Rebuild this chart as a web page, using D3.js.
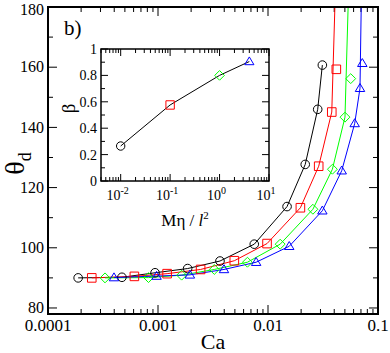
<!DOCTYPE html>
<html>
<head>
<meta charset="utf-8">
<script src="https://cdn.jsdelivr.net/npm/d3@7"></script>
<style>
  body { margin: 0; background: #fff; }
  text { font-family: "Liberation Serif", "Times New Roman", serif; fill: #000; }
</style>
</head>
<body>
<div id="chart"></div>
<script>
const WIDTH = 390;
const HEIGHT = 353;

// main panel data: Ca vs theta_d
const caBlack = [1.88e-4, 4.7e-4, 9.4e-4, 1.86e-3, 3.66e-3, 7.5e-3, 0.0149, 0.0218, 0.0283, 0.0312];
const thBlack = [90.0, 90.2, 91.7, 93.1, 95.6, 101.2, 113.7, 127.7, 146.0, 160.7];
const caRed = [2.5e-4, 6.1e-4, 1.21e-3, 2.44e-3, 4.94e-3, 9.8e-3, 0.0197, 0.0289, 0.0380, 0.0418];
const thRed = [90.0, 90.5, 91.4, 92.8, 95.7, 101.4, 113.3, 127.1, 145.1, 159.3];
const caGreen = [3.3e-4, 8.2e-4, 1.64e-3, 3.25e-3, 6.5e-3, 0.0129, 0.0256, 0.0385, 0.0501, 0.0565];
const thGreen = [90.0, 90.1, 90.9, 92.8, 95.2, 101.2, 112.8, 126.1, 143.4, 156.2];
const caBlue = [3.98e-4, 9.7e-4, 1.95e-3, 3.98e-3, 7.8e-3, 0.0156, 0.0312, 0.0468, 0.0614, 0.0686, 0.0720];
const thBlue = [90.1, 90.6, 91.0, 92.8, 95.2, 100.5, 112.3, 125.6, 141.3, 153.0, 161.3];

// fitted curves: leave out the last n points, then run up past the top
const fitSkip = [0, 1, 1, 1];
const fitTopCa = [null, 0.0407, 0.0537, 0.0705];
const fitTopTh = [null, 182, 182, 182];

// inset: M eta / l^2 vs beta
const insetX = [0.01, 0.1, 1, 4.0];
const insetY = [0.265, 0.576, 0.80, 0.905];

const yTicks = [80, 100, 120, 140, 160, 180];
const xTickLabels = ["0.0001", "0.001", "0.01", "0.1"];
const insetYTicks = [0, 0.2, 0.4, 0.6, 0.8, 1];
const insetXExp = [-2, -1, 0, 1];

const colors = ["#000000", "#ff0000", "#00ff00", "#0000ff"];
const shapes = ["circle", "square", "diamond", "triangle"];

const series = [
  {ca: caBlack, th: thBlack},
  {ca: caRed, th: thRed},
  {ca: caGreen, th: thGreen},
  {ca: caBlue, th: thBlue}
];

const svg = d3.select("#chart").append("svg")
  .attr("width", WIDTH)
  .attr("height", HEIGHT);

// marker path, centred on 0,0
function markerPath(shape, s) {
  const p = d3.path();
  if (shape == "circle") {
    p.arc(0, 0, s, 0, 2 * Math.PI);
  } else if (shape == "square") {
    p.rect(-s, -s, 2 * s, 2 * s);
  } else if (shape == "diamond") {
    p.moveTo(0, -s * 1.15); p.lineTo(s * 1.15, 0); p.lineTo(0, s * 1.15); p.lineTo(-s * 1.15, 0); p.closePath();
  } else {
    p.moveTo(0, -s * 1.1); p.lineTo(s * 1.1, s * 0.75); p.lineTo(-s * 1.1, s * 0.75); p.closePath();
  }
  return p.toString();
}

// log minor tick values between lo and hi
function logTicks(lo, hi) {
  const out = [];
  for (let e = Math.floor(Math.log10(lo)); e <= Math.ceil(Math.log10(hi)); e++) {
    for (let m = 1; m <= 9; m++) {
      const v = m * Math.pow(10, e);
      if (v >= lo * 0.999 && v <= hi * 1.001) out.push({v: v, major: m == 1});
    }
  }
  return out;
}

// ---------- main panel ----------
const L = 48, R = 378, T = 7, B = 314;
const x = d3.scaleLog().domain([1e-4, 0.1]).range([L, R]);
const y = d3.scaleLinear().domain([78, 180]).range([B, T]);

svg.append("clipPath").attr("id", "mainclip")
  .append("rect").attr("x", L).attr("y", T).attr("width", R - L).attr("height", B - T);

const main = svg.append("g");

// ticks (inward, all four sides)
const xt = logTicks(1e-4, 0.1);
main.selectAll("line.xb").data(xt).enter().append("line")
  .attr("x1", d => x(d.v)).attr("x2", d => x(d.v))
  .attr("y1", B).attr("y2", d => B - (d.major ? 9 : 5))
  .attr("stroke", "#000").attr("stroke-width", 1);
main.selectAll("line.xt").data(xt).enter().append("line")
  .attr("x1", d => x(d.v)).attr("x2", d => x(d.v))
  .attr("y1", T).attr("y2", d => T + (d.major ? 9 : 5))
  .attr("stroke", "#000").attr("stroke-width", 1);

const yt = d3.range(80, 181, 10);
main.selectAll("line.yl").data(yt).enter().append("line")
  .attr("x1", L).attr("x2", d => L + (d % 20 == 0 ? 9 : 5))
  .attr("y1", d => y(d)).attr("y2", d => y(d))
  .attr("stroke", "#000").attr("stroke-width", 1);
main.selectAll("line.yr").data(yt).enter().append("line")
  .attr("x1", R).attr("x2", d => R - (d % 20 == 0 ? 9 : 5))
  .attr("y1", d => y(d)).attr("y2", d => y(d))
  .attr("stroke", "#000").attr("stroke-width", 1);

main.selectAll("text.ylab").data(yTicks).enter().append("text")
  .attr("x", L - 4).attr("y", d => y(d)).attr("dy", d => d == 180 ? "0.5em" : "0.33em")
  .attr("text-anchor", "end").style("font-size", "16px")
  .text(d => d);

main.selectAll("text.xlab").data(xTickLabels).enter().append("text")
  .attr("x", d => x(+d)).attr("y", B + 17)
  .attr("text-anchor", "middle").style("font-size", "17px")
  .text(d => d);

main.append("text").attr("x", (L + R) / 2).attr("y", 349)
  .attr("text-anchor", "middle").style("font-size", "22px").text("Ca");

const ylab = main.append("text")
  .attr("transform", "translate(24," + y(128) + ") rotate(-90)")
  .attr("text-anchor", "middle").style("font-size", "28px");
ylab.append("tspan").text("θ");
ylab.append("tspan").attr("dy", 7).style("font-size", "18px").text("d");

main.append("text").attr("x", 64).attr("y", 35).style("font-size", "21px").text("b)");

// curves
const line = d3.line().x(d => x(d[0])).y(d => y(d[1]));
const curves = main.append("g").attr("clip-path", "url(#mainclip)");
series.forEach((s, i) => {
  const n = s.ca.length - fitSkip[i];
  const pts = d3.range(n).map(k => [s.ca[k], s.th[k]]);
  if (fitTopCa[i] != null) pts.push([fitTopCa[i], fitTopTh[i]]);
  curves.append("path").datum(pts)
    .attr("d", line)
    .attr("fill", "none").attr("stroke", colors[i]).attr("stroke-width", 1);
});
series.forEach((s, i) => {
  curves.selectAll("path.m" + i).data(s.ca).enter().append("path")
    .attr("transform", (d, k) => "translate(" + x(d) + "," + y(s.th[k]) + ")")
    .attr("d", markerPath(shapes[i], 4.3))
    .attr("fill", "none").attr("stroke", colors[i]).attr("stroke-width", 1);
});

main.append("rect").attr("x", L).attr("y", T).attr("width", R - L).attr("height", B - T)
  .attr("fill", "none").attr("stroke", "#000").attr("stroke-width", 2);

// ---------- inset ----------
const iL = 101, iR = 269, iT = 49, iB = 181;
const ix = d3.scaleLog().domain([0.004, 10]).range([iL, iR]);
const iy = d3.scaleLinear().domain([0, 1]).range([iB, iT]);
const inset = svg.append("g");

inset.append("rect").attr("x", iL).attr("y", iT).attr("width", iR - iL).attr("height", iB - iT)
  .attr("fill", "#fff");

const ixt = logTicks(0.004, 10);
inset.selectAll("line.b").data(ixt).enter().append("line")
  .attr("x1", d => ix(d.v)).attr("x2", d => ix(d.v))
  .attr("y1", iB).attr("y2", d => iB - (d.major ? 7 : 4))
  .attr("stroke", "#000").attr("stroke-width", 1);
inset.selectAll("line.t").data(ixt).enter().append("line")
  .attr("x1", d => ix(d.v)).attr("x2", d => ix(d.v))
  .attr("y1", iT).attr("y2", d => iT + (d.major ? 7 : 4))
  .attr("stroke", "#000").attr("stroke-width", 1);

const iyt = d3.range(0, 11).map(k => k / 10);
inset.selectAll("line.l").data(iyt).enter().append("line")
  .attr("x1", iL).attr("x2", (d, k) => iL + (k % 2 == 0 ? 7 : 4))
  .attr("y1", d => iy(d)).attr("y2", d => iy(d))
  .attr("stroke", "#000").attr("stroke-width", 1);
inset.selectAll("line.r").data(iyt).enter().append("line")
  .attr("x1", iR).attr("x2", (d, k) => iR - (k % 2 == 0 ? 7 : 4))
  .attr("y1", d => iy(d)).attr("y2", d => iy(d))
  .attr("stroke", "#000").attr("stroke-width", 1);

inset.selectAll("text.yl").data(insetYTicks).enter().append("text")
  .attr("x", iL - 4).attr("y", d => iy(d)).attr("dy", "0.36em")
  .attr("text-anchor", "end").style("font-size", "14px")
  .text(d => d);

const ixl = inset.selectAll("text.xl").data(insetXExp).enter().append("text")
  .attr("x", d => ix(Math.pow(10, d)) - 3).attr("y", iB + 19)
  .attr("text-anchor", "middle").style("font-size", "14px");
ixl.append("tspan").text("10");
ixl.append("tspan").attr("dy", -6).style("font-size", "10px").text(d => d);

const ixtitle = inset.append("text").attr("x", (iL + iR) / 2).attr("y", 226)
  .attr("text-anchor", "middle").style("font-size", "17px");
ixtitle.append("tspan").text("Mη / ");
ixtitle.append("tspan").style("font-style", "italic").text("l");
ixtitle.append("tspan").attr("dy", -7).style("font-size", "11px").text("2");

inset.append("text")
  .attr("transform", "translate(75," + iy(0.55) + ") rotate(-90)")
  .attr("text-anchor", "middle").style("font-size", "19px").text("β");

inset.append("path").datum(insetX.map((d, k) => [d, insetY[k]]))
  .attr("d", d3.line().x(d => ix(d[0])).y(d => iy(d[1])))
  .attr("fill", "none").attr("stroke", "#000").attr("stroke-width", 1);

inset.selectAll("path.mk").data(insetX).enter().append("path")
  .attr("transform", (d, k) => "translate(" + ix(d) + "," + iy(insetY[k]) + ")")
  .attr("d", (d, k) => markerPath(shapes[k], 4.2))
  .attr("fill", "none").attr("stroke", (d, k) => colors[k]).attr("stroke-width", 1);

inset.append("rect").attr("x", iL).attr("y", iT).attr("width", iR - iL).attr("height", iB - iT)
  .attr("fill", "none").attr("stroke", "#000").attr("stroke-width", 1.5);
</script>
</body>
</html>
